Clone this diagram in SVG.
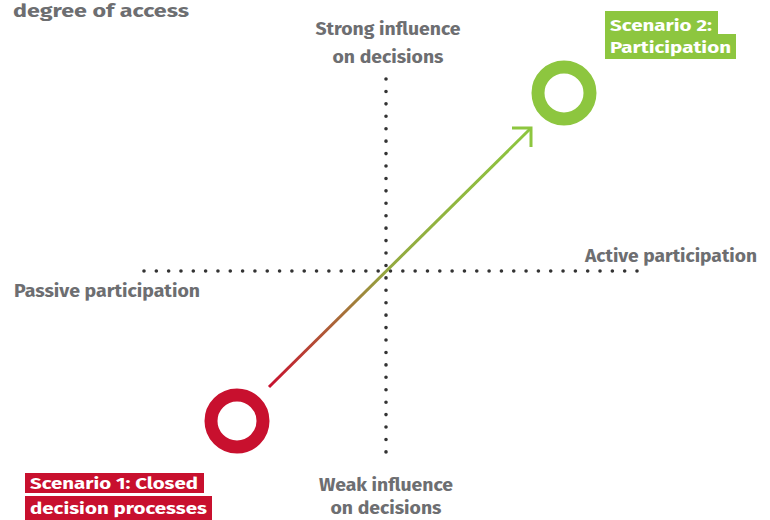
<svg xmlns="http://www.w3.org/2000/svg" width="770" height="520" viewBox="0 0 770 520">
<style>
.t{font-family:"Fira Sans","Roboto","Liberation Sans",sans-serif;font-weight:700;font-size:18px;fill:#6d6e71}
.w{font-family:"Fira Sans","Roboto","Liberation Sans",sans-serif;font-weight:700;font-size:17px;fill:#ffffff}
.dots{stroke:#333333;stroke-width:3.6;stroke-linecap:round;fill:none}
</style>
<defs>
<linearGradient id="g" gradientUnits="userSpaceOnUse" x1="269" y1="387" x2="531" y2="128">
<stop offset="0" stop-color="#c8102e"/>
<stop offset="0.45" stop-color="#93a83f"/>
<stop offset="1" stop-color="#8dc63f"/>
</linearGradient>
</defs>
<rect width="770" height="520" fill="#ffffff"/>
<text class="t" x="13" y="17" font-size="20" textLength="176" lengthAdjust="spacingAndGlyphs">degree of access</text>
<g id="axes">
<line class="dots" x1="144" y1="271" x2="637.5" y2="271" stroke-dasharray="0 12.325"/>
<line class="dots" x1="386" y1="79" x2="386" y2="452.5" stroke-dasharray="0 12.43"/>
</g>
<g id="connectors">
<line x1="269" y1="387" x2="530" y2="129" stroke="url(#g)" stroke-width="3"/>
<polyline points="512,128 531,128 531,147" fill="none" stroke="#8dc63f" stroke-width="3"/>
</g>
<g id="strong">
<text class="t" x="388" y="35" text-anchor="middle" textLength="145" lengthAdjust="spacingAndGlyphs">Strong influence</text>
<text class="t" x="388" y="63" text-anchor="middle" textLength="111" lengthAdjust="spacingAndGlyphs">on decisions</text>
</g>
<g id="weak">
<text class="t" x="386" y="491" text-anchor="middle" textLength="134" lengthAdjust="spacingAndGlyphs">Weak influence</text>
<text class="t" x="386" y="514" text-anchor="middle" textLength="111" lengthAdjust="spacingAndGlyphs">on decisions</text>
</g>
<g id="active">
<text class="t" x="585" y="262" textLength="172" lengthAdjust="spacingAndGlyphs">Active participation</text>
</g>
<g id="passive">
<text class="t" x="14" y="297" textLength="186" lengthAdjust="spacingAndGlyphs">Passive participation</text>
</g>
<g id="scenario2">
<circle cx="564" cy="93" r="26" fill="none" stroke="#8dc63f" stroke-width="13"/>
<rect x="605" y="11" width="113" height="23" fill="#8dc63f"/>
<rect x="605" y="34" width="131" height="25" fill="#8dc63f"/>
<text class="w" x="610" y="31" textLength="102" lengthAdjust="spacingAndGlyphs">Scenario 2:</text>
<text class="w" x="610" y="53" textLength="121" lengthAdjust="spacingAndGlyphs">Participation</text>
</g>
<g id="scenario1">
<circle cx="237" cy="421" r="26" fill="none" stroke="#c8102e" stroke-width="13"/>
<rect x="25" y="473" width="179" height="20" fill="#c8102e"/>
<rect x="25" y="496" width="187" height="24" fill="#c8102e"/>
<text class="w" x="30" y="489" textLength="168" lengthAdjust="spacingAndGlyphs">Scenario 1: Closed</text>
<text class="w" x="30" y="514" textLength="177" lengthAdjust="spacingAndGlyphs">decision processes</text>
</g>
</svg>
